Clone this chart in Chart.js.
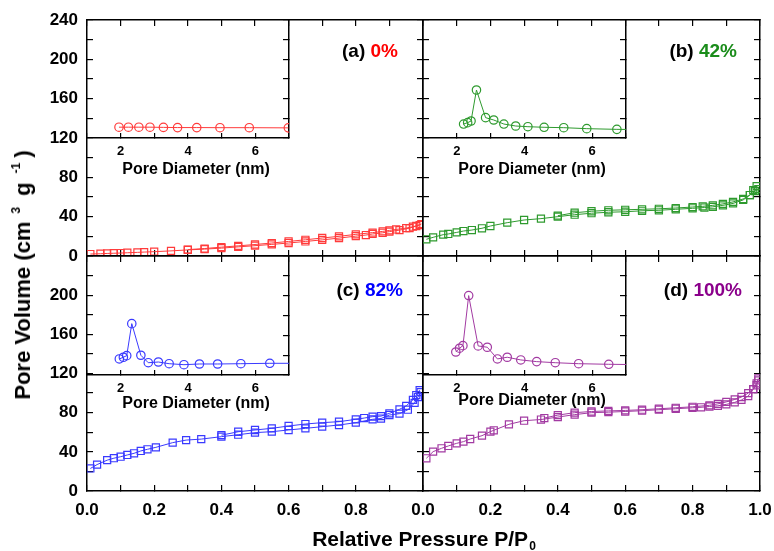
<!DOCTYPE html>
<html>
<head>
<meta charset="utf-8">
<script src="https://cdn.jsdelivr.net/npm/chart.js@4/dist/chart.umd.min.js"></script>
<style>
  html, body { margin:0; padding:0; background:#fff; }
  #wrap { position:relative; width:774px; height:551px; overflow:hidden; background:#fff;
          font-family:'Liberation Sans', Arial, sans-serif; font-weight:bold; color:#000; }
  canvas.layer { position:absolute; left:0; top:0; }
  .txt { position:absolute; white-space:nowrap; line-height:1; }
  .plabel { font-size:19px; transform:translateY(-50%); }
  .ititle { font-size:16px; transform:translate(-50%,-50%); }
  #ytitle { font-size:22px; left:23px; top:275px; transform:translate(-50%,-50%) rotate(-90deg); }
  #xtitle { font-size:21px; left:424px; top:528px; transform:translateX(-50%); }
  sup { font-size:12px; vertical-align:0.8em; line-height:0; }
  sub { font-size:12px; vertical-align:-0.35em; line-height:0; margin-left:1px; }
</style>
</head>
<body>
<div id="wrap">
  <canvas class="layer" id="cA" width="774" height="551"></canvas>
  <canvas class="layer" id="cB" width="774" height="551"></canvas>
  <canvas class="layer" id="cC" width="774" height="551"></canvas>
  <canvas class="layer" id="cD" width="774" height="551"></canvas>
  <canvas class="layer" id="iA" width="774" height="551"></canvas>
  <canvas class="layer" id="iB" width="774" height="551"></canvas>
  <canvas class="layer" id="iC" width="774" height="551"></canvas>
  <canvas class="layer" id="iD" width="774" height="551"></canvas>

  <div class="txt plabel" style="right:376px; top:50px;">(a) <span style="color:#ff0000">0%</span></div>
  <div class="txt plabel" style="right:37px; top:50px;">(b) <span style="color:#1a8c1a">42%</span></div>
  <div class="txt plabel" style="right:371px; top:289px;">(c) <span style="color:#0000ff">82%</span></div>
  <div class="txt plabel" style="right:32px; top:289px;">(d) <span style="color:#8b008b">100%</span></div>

  <div class="txt ititle" style="left:196px; top:169px;">Pore Diameter (nm)</div>
  <div class="txt ititle" style="left:532px; top:169px;">Pore Diameter (nm)</div>
  <div class="txt ititle" style="left:196px; top:403px;">Pore Diameter (nm)</div>
  <div class="txt ititle" style="left:532px; top:400px;">Pore Diameter (nm)</div>

  <div class="txt" id="ytitle">Pore Volume (cm<sup style="margin:0 11px 0 8px">3</sup>g<sup style="margin:0 5px 0 9px">-1</sup>)</div>
  <div class="txt" id="xtitle">Relative Pressure P/P<sub>0</sub></div>
</div>
<script>
// ---------------- DATA ----------------
const xTickLabels = ['0.0','0.2','0.4','0.6','0.8','1.0'];
const yTickLabels = ['0','40','80','120','160','200','240'];
const poreTickLabels = ['2','4','6'];

// (a) 0%
const aAdsP = [0.01,0.04,0.06,0.08,0.10,0.12,0.15,0.17,0.20,0.25,0.30,0.35,0.40,0.45,0.50,0.55,0.60,0.65,0.70,0.75,0.80,0.83,0.85,0.88,0.90,0.93,0.96,0.98,0.995];
const aAdsV = [2,2.3,2.6,2.8,3,3.3,3.7,4,4.4,5.2,6.2,7,8,9.3,10.5,11.8,13.2,14.8,16.4,18.2,20.2,21.3,22.4,23.6,24.8,26.3,28.3,30.5,32.5];
const aDesP = [0.99,0.97,0.95,0.92,0.90,0.88,0.85,0.80,0.75,0.70,0.65,0.60,0.55,0.50,0.45,0.40,0.35,0.30];
const aDesV = [31.5,29.8,28.4,27,26,25,23.8,22,20,18.3,16.5,14.8,13.2,11.7,10.3,9,7.6,6.5];

// (b) 42%
const bAdsP = [0.01,0.03,0.06,0.075,0.10,0.12,0.145,0.175,0.20,0.25,0.30,0.35,0.40,0.45,0.50,0.55,0.60,0.65,0.70,0.75,0.80,0.835,0.86,0.89,0.92,0.95,0.97,0.98,0.99];
const bAdsV = [17,19,21.7,22.4,24,25.4,26.4,28.2,30.5,33.9,36.6,38,40,42,43.5,44.5,45,46,46.5,47.5,48.5,49.3,50,51.5,53.5,57,62,67,71];
const bDesP = [0.995,0.985,0.97,0.95,0.92,0.89,0.86,0.83,0.80,0.75,0.70,0.65,0.60,0.55,0.50,0.45,0.40];
const bDesV = [68,66,62,58,55,53,51.5,50.5,49.8,48.8,48,47.5,47,46.5,45.5,44,41];

// (c) 82%
const cAdsP = [0.01,0.03,0.06,0.08,0.10,0.12,0.14,0.16,0.18,0.205,0.255,0.295,0.34,0.40,0.45,0.50,0.55,0.60,0.65,0.70,0.75,0.80,0.85,0.875,0.90,0.93,0.955,0.975,0.985,0.993];
const cAdsV = [23,27,31.5,33.5,35,36.8,38.5,40.9,42.6,44.6,49.4,52,53,55.5,57.5,59.6,60.6,62.3,64,65.7,67.4,69.8,73.2,74,77.6,79,83,90,96,101];
const cDesP = [0.99,0.98,0.97,0.95,0.93,0.90,0.875,0.85,0.825,0.80,0.75,0.70,0.65,0.60,0.55,0.50,0.45,0.40];
const cDesV = [103,98,93,87,83.4,79.3,76.5,75.9,74.5,73.2,70.8,69.8,68.4,66.4,64,62.3,60.5,57];

// (d) 100%
const dAdsP = [0.01,0.03,0.055,0.075,0.10,0.12,0.14,0.175,0.20,0.21,0.255,0.30,0.35,0.40,0.45,0.50,0.55,0.60,0.65,0.70,0.75,0.80,0.825,0.85,0.875,0.90,0.925,0.945,0.965,0.98,0.99,0.995];
const dAdsV = [33.4,40.2,43.6,46,48.7,50.4,53.1,56.5,60.6,62,68.1,71.8,73,75.5,78,80,80.5,81.2,82,83,84,85,85.5,86.3,87,88.5,90.5,93,97,104,110,115];
const dDesP = [0.995,0.99,0.98,0.965,0.945,0.925,0.90,0.875,0.85,0.80,0.75,0.70,0.65,0.60,0.55,0.50,0.45,0.40,0.36];
const dDesV = [113,108,104,100,96,93.5,91,89,87.5,86,85,84,83,82.3,81.8,81.2,80,77.5,74.5];

// Insets: pore size distribution (diameter nm, value on 120-240 inset scale)
const aPoreD = [1.95,2.23,2.54,2.87,3.27,3.69,4.26,4.95,5.82,6.98];
const aPoreV = [131,131,131,131,130.8,130.6,130.6,130.5,130.5,130.3];
const bPoreD = [2.2,2.32,2.42,2.58,2.85,3.09,3.39,3.74,4.1,4.58,5.16,5.84,6.73,7.3];
const bPoreV = [134.2,135.6,137.3,168.8,140.7,138.3,134.2,132.2,131.5,130.9,130.5,129.5,128.8,128.6];
const cPoreD = [1.96,2.08,2.18,2.33,2.6,2.82,3.12,3.44,3.88,4.34,4.88,5.57,6.43,7.3];
const cPoreV = [136.2,137.9,139.5,171.8,139.9,132.4,133.1,131.4,130.4,131.1,131.1,131.4,131.8,131.8];
const dPoreD = [1.97,2.08,2.18,2.35,2.63,2.9,3.2,3.49,3.89,4.36,4.91,5.6,6.49,7.3];
const dPoreV = [143.2,147,149.6,200.1,149.3,148,136.2,137.9,135.2,133.5,132.4,131.4,130.8,130.5];

// ---------------- CHARTS ----------------
Chart.defaults.font.family = "'Liberation Sans', Arial, sans-serif";
Chart.defaults.font.weight = 'bold';
Chart.defaults.color = '#000';
Chart.defaults.animation = false;

const W = 774, H = 551;
const pts = (xs, ys) => xs.map((x, i) => ({x: x, y: ys[i]}));

function axisCommon(pos, min, max, step, tickLen, size) {
  const horiz = (pos === 'top' || pos === 'bottom');
  return {
    type: 'linear', position: pos, min: min, max: max,
    afterFit: s => {
      if (horiz) s.height = size; else s.width = size;
      s.paddingLeft = 0; s.paddingRight = 0; s.paddingTop = 0; s.paddingBottom = 0;
    },
    border: {display: true, color: '#000', width: 1.5},
    grid: {display: true, drawOnChartArea: false, drawTicks: true, tickLength: tickLen, color: '#000', lineWidth: 1.2},
    ticks: {display: false, stepSize: step, autoSkip: false, maxRotation: 0, minRotation: 0, includeBounds: false}
  };
}

function mainPanel(id, area, adsP, adsV, desP, desV, color, yLabels, xLabels) {
  const ySize = yLabels ? area.l : 0;
  const xSize = xLabels ? (H - area.b) : 0;
  const x = axisCommon('bottom', 0, 1, 0.1, -6, xSize);
  const x2 = axisCommon('top', 0, 1, 0.1, -6, 0);
  const y = axisCommon('left', 0, 240, 20, -6, ySize);
  const y2 = axisCommon('right', 0, 240, 20, -6, 0);
  if (xLabels) {
    x.ticks.display = true;
    x.ticks.padding = 15;
    x.ticks.font = {size: 17, weight: 'bold'};
    x.ticks.callback = v => { const s = Number(v).toFixed(1); return xLabels.includes(s) ? s : ''; };
  }
  if (yLabels) {
    y.ticks.display = true;
    y.ticks.padding = 15;
    y.ticks.font = {size: 17, weight: 'bold'};
    y.ticks.callback = v => { const s = String(Math.round(v)); return yLabels.includes(s) ? s : ''; };
  }
  const ds = (data) => ({
    data: data, showLine: true, borderColor: color, backgroundColor: 'rgba(0,0,0,0)',
    borderWidth: 1, pointStyle: 'rect', pointRadius: 5, pointBorderWidth: 1.2,
    pointBorderColor: color, pointBackgroundColor: 'rgba(0,0,0,0)', pointHoverRadius: 5
  });
  return new Chart(document.getElementById(id), {
    type: 'scatter',
    data: {datasets: [ds(pts(adsP, adsV)), ds(pts(desP, desV))]},
    options: {
      responsive: false, maintainAspectRatio: false,
      layout: {padding: {left: area.l - ySize, top: area.t, right: W - area.r, bottom: H - area.b - xSize}},
      plugins: {legend: {display: false}, tooltip: {enabled: false}},
      scales: {x: x, x2: x2, y: y, y2: y2}
    }
  });
}

function inset(id, area, D, V, color) {
  const xSize = 30;
  const x = axisCommon('bottom', 1, 7, 1, -5, xSize);
  x.ticks.display = true;
  x.ticks.padding = 11;
  x.ticks.font = {size: 13, weight: 'bold'};
  x.ticks.callback = v => { const s = String(Math.round(v)); return poreTickLabels.includes(s) ? s : ''; };
  const yr = axisCommon('right', 120, 240, 20, -6, 0);
  return new Chart(document.getElementById(id), {
    type: 'scatter',
    data: {datasets: [{
      data: pts(D, V), showLine: true, borderColor: color, borderWidth: 1,
      backgroundColor: 'rgba(0,0,0,0)', pointStyle: 'circle', pointRadius: 4.2,
      pointBorderWidth: 1.2, pointBorderColor: color, pointBackgroundColor: 'rgba(0,0,0,0)',
      yAxisID: 'yr', xAxisID: 'x'
    }]},
    options: {
      responsive: false, maintainAspectRatio: false,
      layout: {padding: {left: area.l, top: area.t, right: W - area.r, bottom: H - area.b - xSize}},
      plugins: {legend: {display: false}, tooltip: {enabled: false}},
      scales: {x: x, yr: yr}
    }
  });
}

const red = '#ff3b3b', green = '#2e9a2e', blue = '#3a3aff', purple = '#a23aa2';

mainPanel('cA', {l: 87, t: 20, r: 423, b: 256}, aAdsP, aAdsV, aDesP, aDesV, red, yTickLabels, null);
mainPanel('cB', {l: 423, t: 20, r: 760, b: 256}, bAdsP, bAdsV, bDesP, bDesV, green, null, null);
mainPanel('cC', {l: 87, t: 256, r: 423, b: 491}, cAdsP, cAdsV, cDesP, cDesV, blue, yTickLabels.slice(0, 6), xTickLabels.slice(0, 5));
mainPanel('cD', {l: 423, t: 256, r: 760, b: 491}, dAdsP, dAdsV, dDesP, dDesV, purple, null, xTickLabels);

inset('iA', {l: 87, t: 20, r: 289, b: 138}, aPoreD, aPoreV, red);
inset('iB', {l: 423, t: 20, r: 626, b: 138}, bPoreD, bPoreV, green);
inset('iC', {l: 87, t: 256, r: 289, b: 375}, cPoreD, cPoreV, blue);
inset('iD', {l: 423, t: 256, r: 626, b: 375}, dPoreD, dPoreV, purple);
</script>
</body>
</html>
